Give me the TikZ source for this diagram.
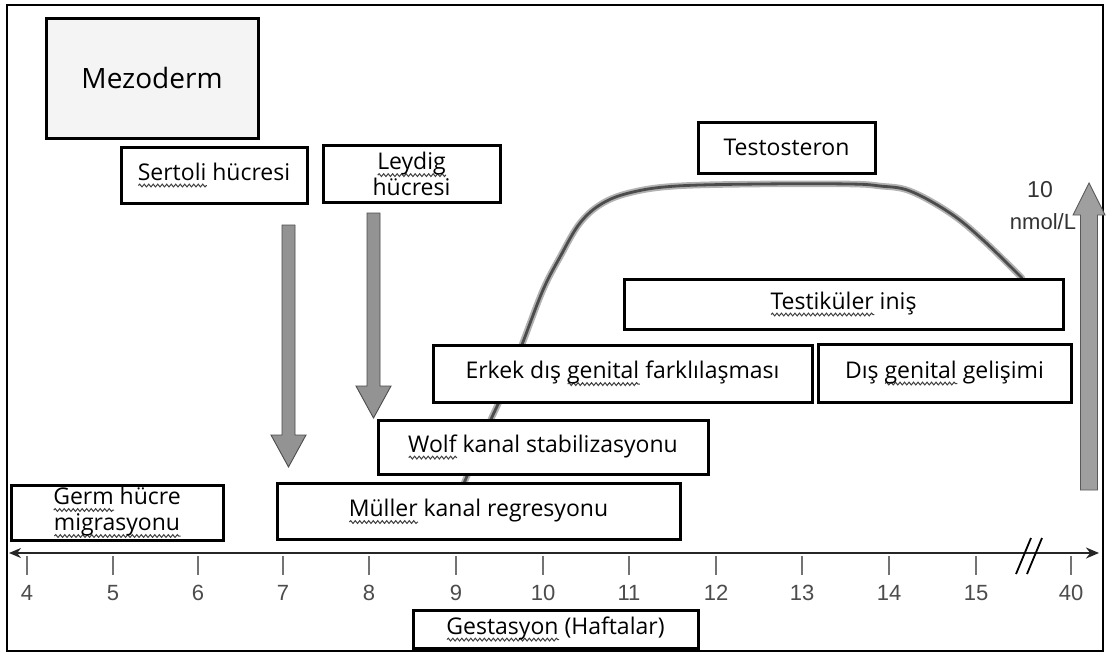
\documentclass[tikz,border=0pt]{standalone}
\usepackage{fontspec}
\setmainfont{Open Sans}
\newfontfamily\numfont{Liberation Sans}
\usetikzlibrary{arrows.meta,decorations.pathmorphing}
\newsavebox\sqbox
\newcommand\sq[1]{\sbox\sqbox{#1}\rlap{\tikz[baseline=0pt,x=1pt,y=1pt]\draw[line width=1,black!75,decorate,decoration={snake,amplitude=1.4,segment length=4.5}] (0,-5.5) -- (\wd\sqbox,-5.5);}\usebox\sqbox}
\newcommand\FatDown[3]{%
  \draw[fatarrow] (#1-6.5,#2) -- (#1+6.5,#2) -- (#1+6.5,#3-32) -- (#1+17.5,#3-32)
    -- (#1,#3) -- (#1-17.5,#3-32) -- (#1-6.5,#3-32) -- cycle;}
\begin{document}
\begin{tikzpicture}[x=1pt,y=-1pt,
  box/.style={draw=black, line width=3, fill=white, inner sep=0, align=center,
    text=black, font=\fontsize{23}{26}\selectfont},
  fatarrow/.style={left color=gray!85, middle color=gray!25, right color=gray!85,
    draw=black!70, line width=0.9},
  upfat/.style={left color=gray!75, middle color=gray!45, right color=gray!75, draw=black!65, line width=0.9},
  curve/.style={line width=6.5, draw=gray!60, line cap=round},
  curvecore/.style={line width=2.8, draw=black!70, line cap=round},
  tickmark/.style={line width=1.5, draw=black!55},
  num/.style={font=\numfont\fontsize{22}{24}\selectfont, text=black!70},
  axisline/.style={line width=2.4, draw=black!85}]
\useasboundingbox (0,0) rectangle (1109,656);
\fill[white] (0,0) rectangle (1109,656);
\draw[line width=1.3] (7,5) rectangle (1103,651);

% testosterone curve (behind boxes)
\draw[curve] plot[smooth, tension=0.6] coordinates {(462,488) (478,450) (492,417) (500,400) (512,370) (523,342) (543,290) (560,257) (580,223) (603,203) (633,192) (677,186) (760,184) (850,184) (880,186) (910,191) (950,213) (983,240) (1022,278)};
\draw[curvecore] plot[smooth, tension=0.6] coordinates {(462,488) (478,450) (492,417) (500,400) (512,370) (523,342) (543,290) (560,257) (580,223) (603,203) (633,192) (677,186) (760,184) (850,184) (880,186) (910,191) (950,213) (983,240) (1022,278)};

% boxes
\node[box, fill=gray!9, minimum width=212, minimum height=120, font=\fontsize{28}{30}\selectfont] (mez) at (152,78) {Mezoderm};
\node[box, minimum width=186, minimum height=56] (sert) at (214,175) {\sq{Sertoli} hücresi};
\node[box, minimum width=177, minimum height=57] (leyd) at (411.5,174) {\sq{Leydig}\\hücresi};
\node[box, minimum width=177, minimum height=51] (test) at (786.5,147.5) {Testosteron};
\node[box, minimum width=439, minimum height=50] (tinis) at (843.5,304) {\sq{Testiküler} iniş};
\node[box, minimum width=379, minimum height=57] (erkek) at (622.5,373.5) {Erkek dış \sq{genital} farklılaşması};
\node[box, minimum width=253, minimum height=58] (dis) at (944.5,373) {Dış \sq{genital} gelişimi};
\node[box, minimum width=330, minimum height=54] (wolf) at (543,447) {\sq{Wolf} kanal stabilizasyonu};
\node[box, minimum width=212, minimum height=55] (germ) at (117,512.5) {\sq{Germ} hücre\\\sq{migrasyonu}};
\node[box, minimum width=403, minimum height=56] (muller) at (478.5,511.5) {\sq{Müller} kanal regresyonu};
\node[box, minimum width=285, minimum height=38] (gest) at (555.5,629) {\sq{Gestasyon} (Haftalar)};

% hormone arrows
\FatDown{288.5}{225}{467}
\FatDown{373.5}{213}{418}
\coordinate (upB) at (1089,490);
\coordinate (upT) at (1089,183);
\draw[upfat] (1080.5,490) -- (1097.5,490) -- (1097.5,215) -- (1105,215) -- (upT)
  -- (1073,215) -- (1080.5,215) -- cycle;
\node[num, font=\numfont\fontsize{23}{25}\selectfont, text=black!80] (ten) at (1040,190) {10};
\node[num, font=\numfont\fontsize{22}{24}\selectfont, text=black!80] (nmol) at (1043,222) {nmol/L};

% time axis
\coordinate (axL) at (9,553);
\coordinate (axR) at (1099,553);
\draw[axisline, {Stealth[length=12,width=10]}-{Stealth[length=13,width=11]}] (axL) -- (axR);
\foreach \n/\x in {4/27,5/113,6/198,7/283,8/369,9/456,10/543,11/629,12/716,13/802,14/889,15/976,40/1071}{
  \draw[tickmark] (\x,556) -- (\x,575);
  \node[num] (n\n) at (\x,593) {\n};
}
\draw[line width=1.8] (1016,574) -- (1031,538);
\draw[line width=1.8] (1027,574) -- (1042,538);
\end{tikzpicture}
\end{document}
